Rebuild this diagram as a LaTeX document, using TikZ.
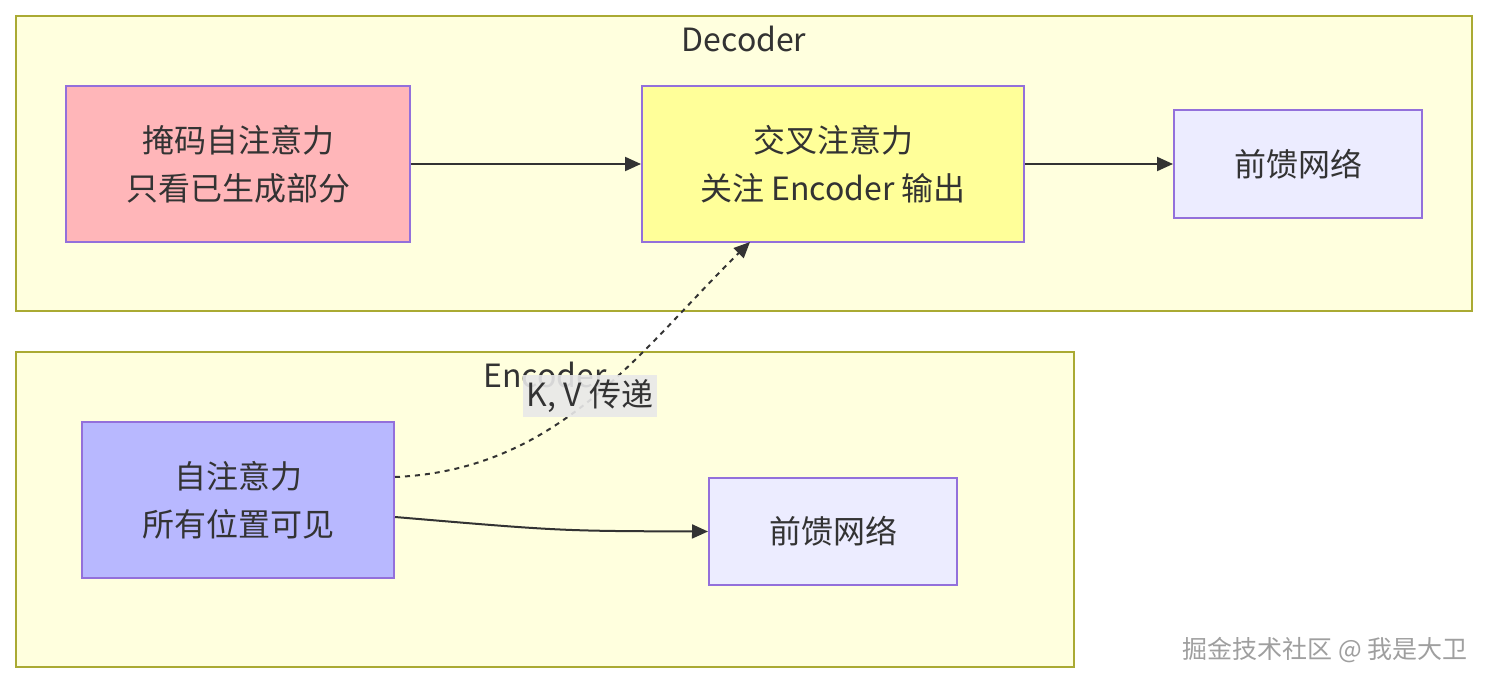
\documentclass[tikz,border=0pt]{standalone}
\usepackage{fontspec}
\setmainfont{Noto Sans CJK SC}
\usetikzlibrary{arrows.meta}
\definecolor{clfill}{HTML}{FFFFDE}
\definecolor{clline}{HTML}{AAAA33}
\definecolor{nline}{HTML}{9370DB}
\definecolor{pinkf}{HTML}{FFB6B9}
\definecolor{yelf}{HTML}{FFFF99}
\definecolor{bluef}{HTML}{B8B8FF}
\definecolor{lavf}{HTML}{ECECFF}
\definecolor{ink}{HTML}{333333}
\definecolor{lblbg}{HTML}{E8E8E8}
\tikzset{
  cluster/.style={draw=clline, fill=clfill, line width=1pt},
  nodebox/.style={draw=nline, line width=1pt, inner sep=0pt, align=center, text=ink, font=\fontsize{16}{24}\selectfont},
  conn/.style={draw=ink, line width=1pt, -{Triangle[length=8pt,width=7pt]}},
  dotconn/.style={conn, dash pattern=on 2.5pt off 2.5pt},
  title/.style={text=ink, font=\fontsize{16}{20}\selectfont, inner sep=0pt}
}
\begin{document}
\begin{tikzpicture}[x=0.5pt,y=-0.5pt]
\useasboundingbox (0,0) rectangle (1488,684);
\fill[white] (0,0) rectangle (1488,684);
% clusters
\draw[cluster] (16,16) rectangle (1472,311);
\node[title] (dectitle) at (744,39) {Decoder};
\draw[cluster] (16,352) rectangle (1074,667);
\node[title] (enctitle) at (545,375) {Encoder};
% decoder nodes
\node[nodebox, fill=pinkf, minimum width=172pt, minimum height=78pt] (mask) at (238,164) {掩码自注意力\\只看已生成部分};
\node[nodebox, fill=yelf, minimum width=191pt, minimum height=78pt] (cross) at (833,164) {交叉注意力\\关注 Encoder 输出};
\node[nodebox, fill=lavf, minimum width=124pt, minimum height=54pt] (ffnd) at (1298,164) {前馈网络};
% encoder nodes
\node[nodebox, fill=bluef, minimum width=156pt, minimum height=78pt] (self) at (238,500) {自注意力\\所有位置可见};
\node[nodebox, fill=lavf, minimum width=124pt, minimum height=53.5pt] (ffne) at (833,531.5) {前馈网络};
% connectors
\draw[conn] (mask.east) -- (cross.west);
\draw[conn] (cross.east) -- (ffnd.west);
\draw[conn] (self.east |- 0,517) .. controls (560,531) .. (ffne.west);
\coordinate (crossin) at (750,242);
\draw[dotconn] (self.east |- 0,477) .. controls (560,470) and (640,350) .. (crossin);
\node[fill=lblbg, fill opacity=0.9, text opacity=1, text=ink, font=\fontsize{16}{20}\selectfont, inner sep=2pt] (kv) at (590,396) {K, V 传递};
% watermark
\node[text=gray!75, font=\fontsize{12.5}{15}\selectfont, inner sep=0pt] (wm) at (1325,650) {掘金技术社区 @ 我是大卫};
\end{tikzpicture}
\end{document}
